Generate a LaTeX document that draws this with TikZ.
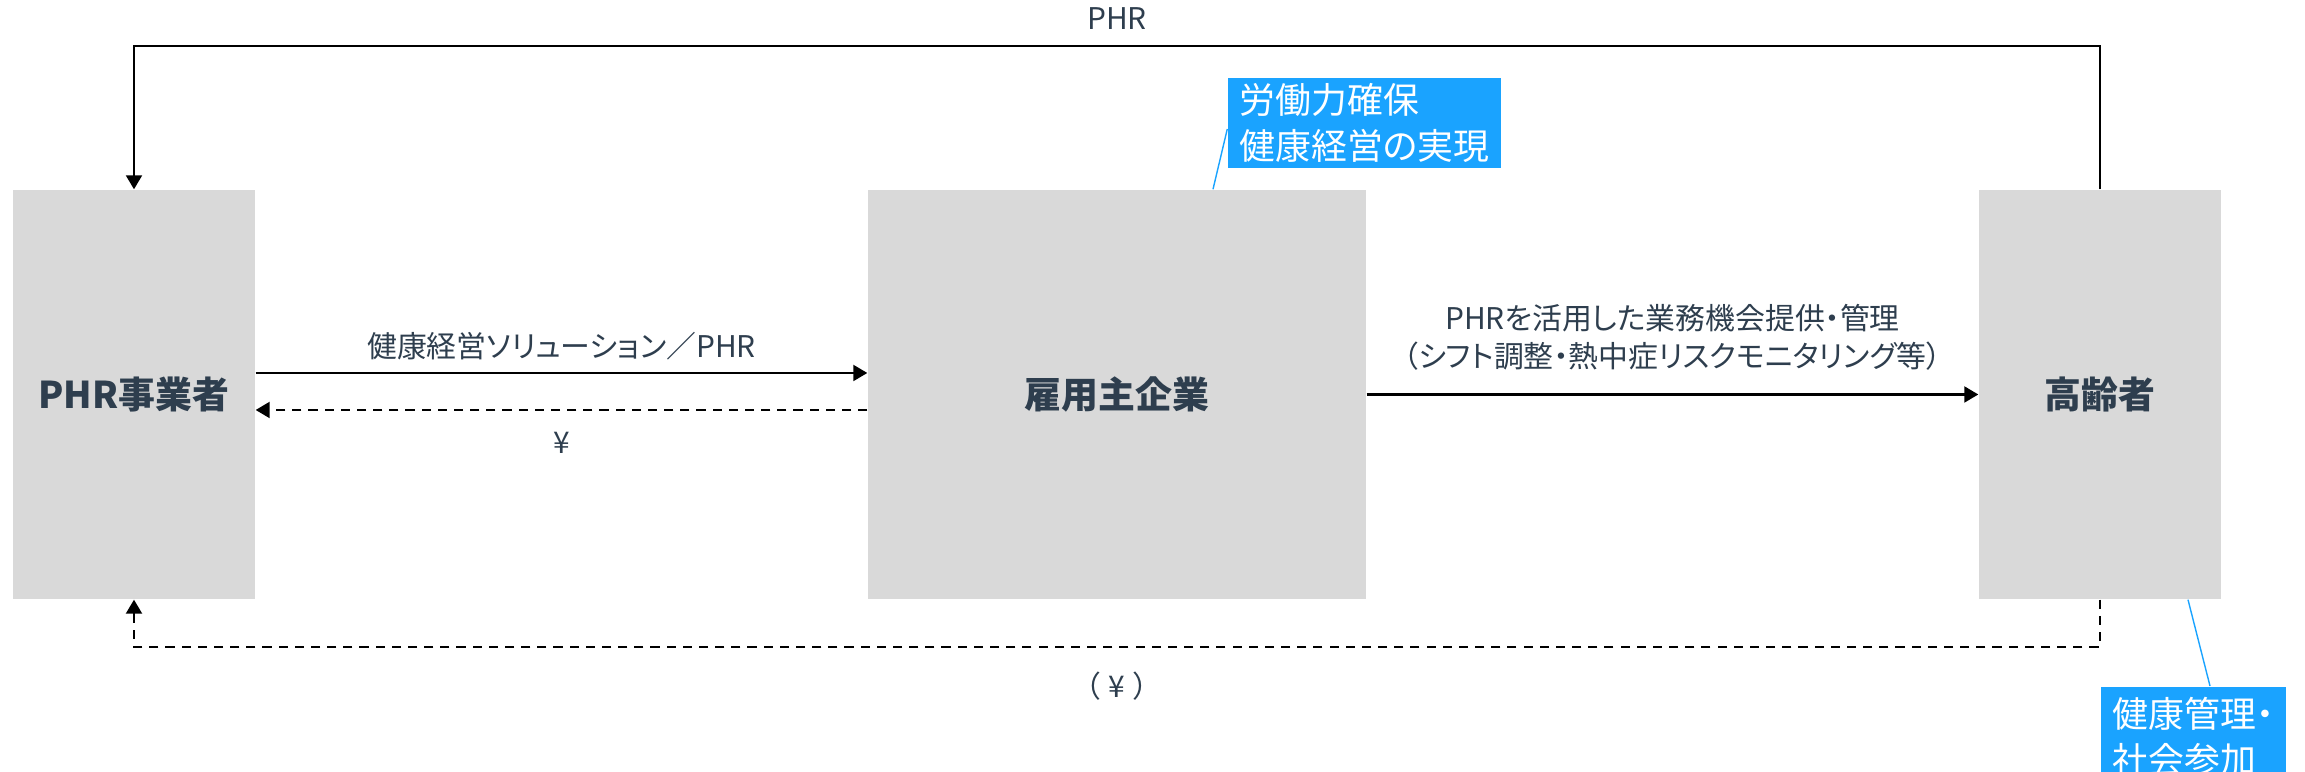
\documentclass[tikz,border=0pt]{standalone}
\usepackage{fontspec}
\setmainfont{Noto Sans CJK JP}[CharacterWidth=AlternateProportional]
\usetikzlibrary{calc,arrows.meta}
\definecolor{boxgray}{HTML}{D9D9D9}
\definecolor{ink}{HTML}{2E3E4E}
\definecolor{note}{HTML}{1AA3FF}

\begin{document}
\begin{tikzpicture}[
  actor/.style={fill=boxgray,minimum width=2.42cm,minimum height=4.09cm,inner sep=0pt,text=ink,font=\fontsize{10.5}{12}\selectfont\bfseries},
  flow/.style={line width=0.6pt,-{Triangle[length=0.14cm,width=0.16cm]}},
  back/.style={flow,dash pattern=on 2.6pt off 2pt},
  lbl/.style={text=ink,align=center,font=\fontsize{8.5}{11}\selectfont},
  goal/.style={fill=note,text=white,align=left,inner sep=0pt,font=\fontsize{10.2}{13}\selectfont},
  tie/.style={note,line width=0.4pt}]
  \path[use as bounding box,clip] (0,0) rectangle (23.05,7.72);

  \node[actor] (phr) at (1.34,3.775) {PHR事業者};
  \node[actor,minimum width=4.98cm] (emp) at (11.17,3.775) {雇用主企業};
  \node[actor] (old) at (21.00,3.775) {高齢者};

  \draw[flow] ([yshift=0.215cm]phr.east) -- node[lbl,above] {健康経営ソリューション／PHR} ([yshift=0.215cm]emp.west);
  \draw[back] ([yshift=-0.155cm]emp.west) -- node[lbl,below=0.09cm] {¥} ([yshift=-0.155cm]phr.east);
  \draw[flow] (emp.east) -- node[lbl,above=0.11cm] {PHRを活用した業務機会提供・管理\\（シフト調整・熱中症リスクモニタリング等）} (old.west);

  \coordinate (topR) at ($(old.north)+(0,1.43)$);
  \draw[flow] (old.north) -- (topR) -- node[lbl,above=1pt] {PHR} (topR -| phr.north) -- (phr.north);
  \coordinate (botR) at ($(old.south)+(0,-0.47)$);
  \draw[back] (old.south) -- (botR) -- node[lbl,below=0.12cm] {（\hspace{0.28em}¥\hspace{0.28em}）} (botR -| phr.south) -- (phr.south);

  \node[goal,minimum width=2.73cm,minimum height=0.90cm] (aim) at (13.645,6.49) {労働力確保\\健康経営の実現};
  \draw[tie] ([xshift=0.96cm]emp.north) -- ([yshift=-0.06cm]aim.west);
  \node[goal,minimum width=1.85cm,minimum height=1.0cm,anchor=north] (care) at (21.935,0.86) {健康管理・\\社会参加};
  \draw[tie] ([xshift=0.88cm]old.south) -- ([xshift=0.165cm]care.north);
\end{tikzpicture}
\end{document}
